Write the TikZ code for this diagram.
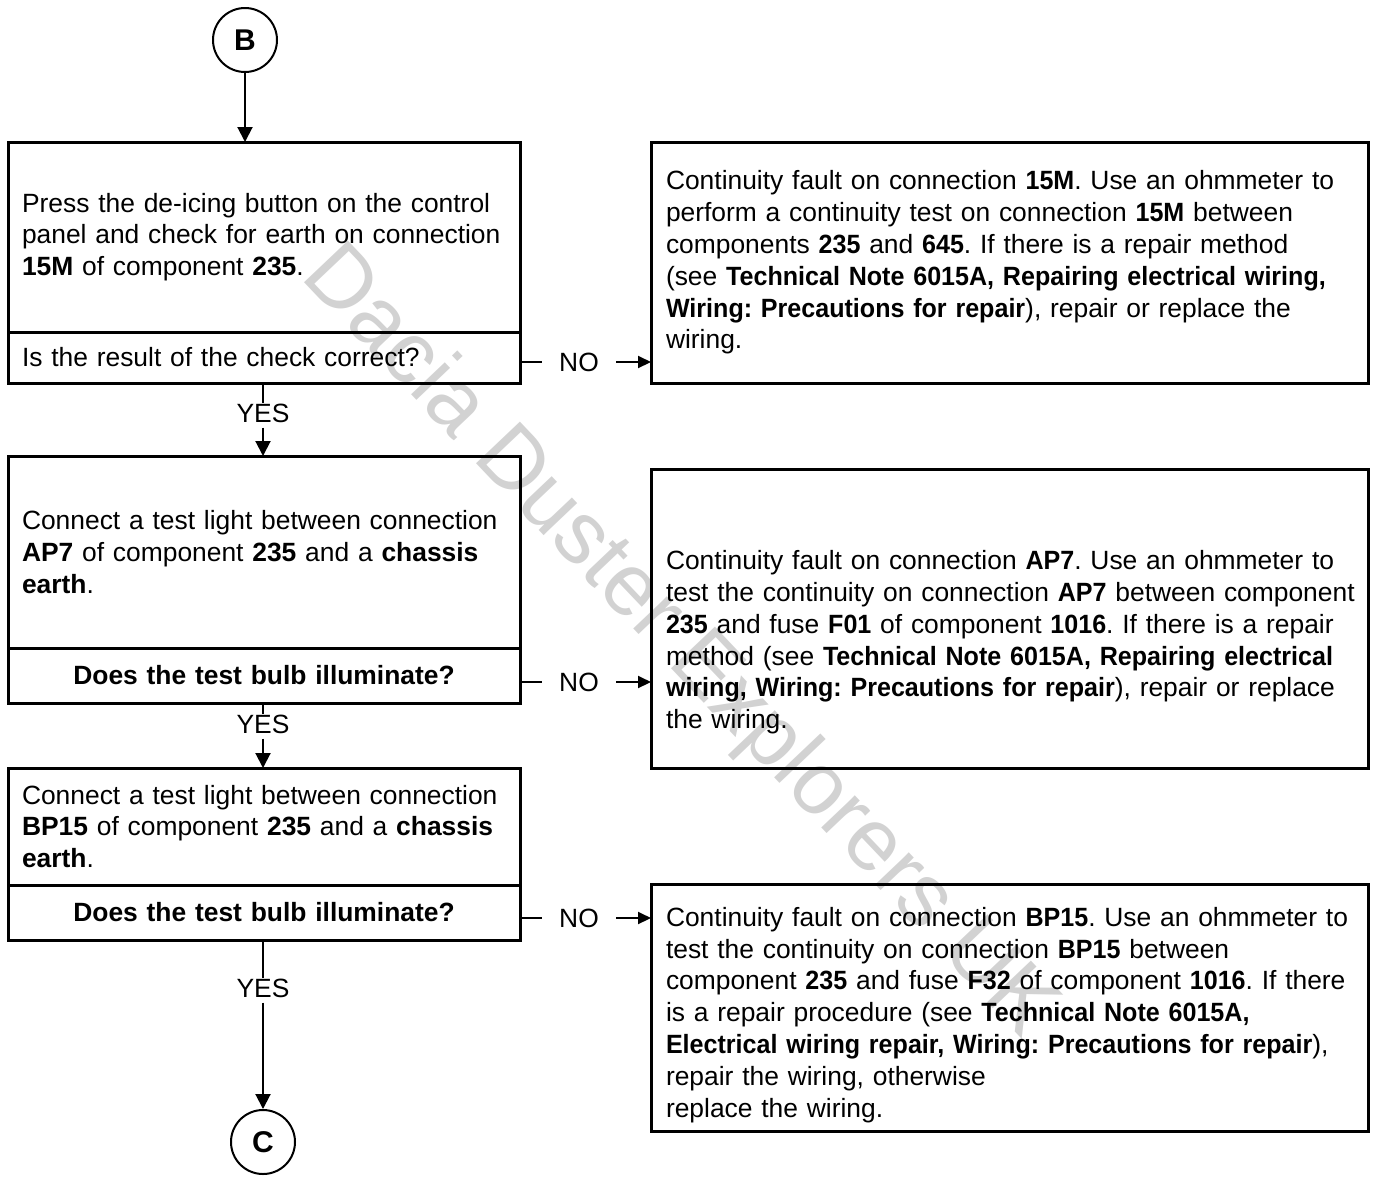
\documentclass[tikz,border=0pt]{standalone}
\usepackage{fontspec}
\setmainfont{Liberation Sans}
\newfontfamily\faultfont{Liberation Sans}[BoldFeatures={FakeStretch=0.95}]
\usetikzlibrary{arrows.meta}
\frenchspacing

\begin{document}
\begin{tikzpicture}[
                x=1pt, y=-1pt,
                every node/.style={font=\fontsize{26.4}{31.8}\selectfont},
                stepbox/.style={draw, line width=3pt, outer sep=0pt, anchor=north west, minimum width=512pt,
                    text width=484pt, inner xsep=14pt, inner ysep=0pt, align=left},
                askbox/.style={stepbox, anchor=north},
                faultbox/.style={draw, line width=3pt, outer sep=0pt, anchor=north west, minimum width=717pt,
                    text width=687pt, inner xsep=15pt, inner ysep=0pt,
                    font=\faultfont\fontsize{26.4}{31.8}\selectfont,
                    execute at begin node={\hyphenpenalty=10000\rightskip=0pt plus 1fil minus 80pt}},
                pushdown/.style={execute at begin node={\rule{0pt}{#1}}},
                term/.style={circle, draw, line width=2pt, minimum size=64pt, inner sep=0pt,
                    font=\bfseries\fontsize{30}{30}\selectfont},
                answer/.style={inner xsep=17pt, inner ysep=0pt},
                wire/.style={line width=2pt},
                downarrow/.style={wire, -{Triangle[length=15pt,width=15pt]}},
                sidearrow/.style={wire, -{Triangle[length=13pt,width=12pt]}}
            ]
            \useasboundingbox (0,0) rectangle (1373,1179);

            \node[rotate=-46.5, text=gray!35, font=\fontsize{88}{88}\selectfont] (mark) at (678,643) {Dacia Duster Explorers UK};

            \node[term] (B) at (245,40) {B};

            \node[stepbox, minimum height=190pt] (s1) at (8,142)
                {Press the de-icing button on the control\\
                panel and check for earth on connection\\
                \textbf{15M} of component \textbf{235}.};
            \node[askbox, minimum height=51pt] (q1) at (s1.south) {Is the result of the check correct?};
            \node[faultbox, minimum height=241pt] (f1) at (651,142)
                {Continuity fault on connection \textbf{15M}. Use an ohmmeter to\\
                perform a continuity test on connection \textbf{15M} between\\
                components \textbf{235} and \textbf{645}. If there is a repair method\\
                (see \textbf{Technical Note 6015A, Repairing electrical wiring,}\\
                \textbf{Wiring: Precautions for repair}), repair or replace the\\
                wiring.};
            \node[answer] (no1) at (579,362) {NO};
            \node[inner sep=0pt] (yes1) at (263,413) {YES};

            \node[stepbox, minimum height=192pt] (s2) at (8,456)
                {Connect a test light between connection\\
                \textbf{AP7} of component \textbf{235} and a \textbf{chassis}\\
                \textbf{earth}.};
            \node[askbox, minimum height=55pt, align=center] (q2) at (s2.south) {\textbf{Does the test bulb illuminate?}};
            \node[faultbox, minimum height=299pt, pushdown=67pt] (f2) at (651,469)
                {Continuity fault on connection \textbf{AP7}. Use an ohmmeter to\\
                test the continuity on connection \textbf{AP7} between component\\
                \textbf{235} and fuse \textbf{F01} of component \textbf{1016}. If there is a repair\\
                method (see \textbf{Technical Note 6015A, Repairing electrical}\\
                \textbf{wiring, Wiring: Precautions for repair}), repair or replace\\
                the wiring.};
            \node[answer] (no2) at (579,682) {NO};
            \node[inner sep=0pt] (yes2) at (263,724) {YES};

            \node[stepbox, minimum height=117pt] (s3) at (8,768)
                {Connect a test light between connection\\
                \textbf{BP15} of component \textbf{235} and a \textbf{chassis}\\
                \textbf{earth}.};
            \node[askbox, minimum height=55pt, align=center] (q3) at (s3.south) {\textbf{Does the test bulb illuminate?}};
            \node[faultbox, minimum height=247pt, pushdown=34pt] (f3) at (651,884)
                {Continuity fault on connection \textbf{BP15}. Use an ohmmeter to\\
                test the continuity on connection \textbf{BP15} between\\
                component \textbf{235} and fuse \textbf{F32} of component \textbf{1016}. If there\\
                is a repair procedure (see \textbf{Technical Note 6015A,}\\
                \textbf{Electrical wiring repair, Wiring: Precautions for repair}),\\
                repair the wiring, otherwise\\
                replace the wiring.};
            \node[answer] (no3) at (579,918) {NO};
            \node[inner sep=0pt] (yes3) at (263,988) {YES};

            \node[term] (C) at (263,1142) {C};

            \draw[downarrow] (B) -- (B |- s1.north);

            \draw[wire] (q1.east |- no1) -- (no1.west);
            \draw[sidearrow] (no1.east) -- (no1 -| f1.west);
            \draw[wire] (q1.south -| yes1) -- (yes1.north);
            \draw[downarrow] ([yshift=-5pt]yes1.south) -- (s2.north -| yes1);

            \draw[wire] (q2.east |- no2) -- (no2.west);
            \draw[sidearrow] (no2.east) -- (no2 -| f2.west);
            \draw[wire] (q2.south -| yes2) -- (yes2.north);
            \draw[downarrow] ([yshift=-5pt]yes2.south) -- (s3.north -| yes2);

            \draw[wire] (q3.east |- no3) -- (no3.west);
            \draw[sidearrow] (no3.east) -- (no3 -| f3.west);
            \draw[wire] (q3.south -| yes3) -- (yes3.north);
            \draw[downarrow] ([yshift=-5pt]yes3.south) -- (C);

        \end{tikzpicture}
\end{document}
